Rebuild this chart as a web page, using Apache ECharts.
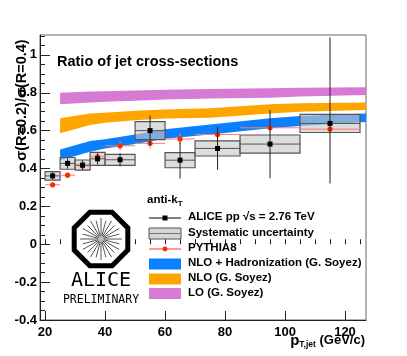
<!DOCTYPE html>
<html>
<head>
<meta charset="utf-8">
<script src="https://cdn.jsdelivr.net/npm/echarts@6/dist/echarts.min.js"></script>
<style>
html, body { margin: 0; padding: 0; background: #fff; }
#chart { width: 407px; height: 356px; }
</style>
</head>
<body>
<div id="chart"></div>
<script>
// pt bins of the measurement (GeV/c)
var ptLow = [20, 25, 30, 35, 40, 50, 60, 70, 85, 105];
var ptHigh = [25, 30, 35, 40, 50, 60, 70, 85, 105, 125];
var ptCenter = [22.5, 27.5, 32.5, 37.5, 45, 55, 65, 77.5, 95, 115];

// ALICE ratio, stat errors (down / up) and systematic
var aliceRatio = [0.361, 0.427, 0.418, 0.451, 0.446, 0.600, 0.444, 0.506, 0.529, 0.638];
var statDown = [0.020, 0.027, 0.025, 0.030, 0.035, 0.080, 0.097, 0.113, 0.180, 0.317];
var statUp = [0.020, 0.027, 0.025, 0.030, 0.035, 0.080, 0.097, 0.113, 0.180, 0.455];
var sysErr = [0.022, 0.031, 0.027, 0.034, 0.029, 0.048, 0.040, 0.040, 0.048, 0.048];

// PYTHIA8
var pythia = [0.314, 0.365, 0.414, 0.462, 0.520, 0.533, 0.556, 0.580, 0.615, 0.608];
var pythiaErr = [0.012, 0.012, 0.010, 0.012, 0.025, 0.030, 0.030, 0.025, 0.012, 0.025];

// theory bands (G. Soyez)
var bandPt = [25, 35, 40, 50, 60, 75, 95, 105, 127];
var nloHadLow = [0.444, 0.488, 0.505, 0.530, 0.557, 0.580, 0.612, 0.625, 0.645];
var nloHadHigh = [0.501, 0.545, 0.555, 0.580, 0.607, 0.633, 0.665, 0.677, 0.690];
var nloLow = [0.586, 0.630, 0.642, 0.655, 0.664, 0.668, 0.691, 0.700, 0.709];
var nloHigh = [0.665, 0.691, 0.695, 0.705, 0.712, 0.718, 0.739, 0.745, 0.748];
var loLow = [0.739, 0.748, 0.752, 0.758, 0.764, 0.770, 0.774, 0.780, 0.788];
var loHigh = [0.800, 0.806, 0.808, 0.812, 0.816, 0.820, 0.824, 0.826, 0.829];

// axis ticks
var xMajor = [20, 40, 60, 80, 100, 120];
var xMinor = [20, 25, 30, 35, 40, 45, 50, 55, 60, 65, 70, 75, 80, 85, 90, 95, 100, 105, 110, 115, 120, 125];
var yMajor = [-0.4, -0.2, 0, 0.2, 0.4, 0.6, 0.8, 1];
var yMinor = [];
for (var t = -0.4; t <= 1.1001; t += 0.05) yMinor.push(Math.round(t * 100) / 100);

var FONT = 'Liberation Sans, Arial, Helvetica, sans-serif';
var C_BLUE = '#0a80ff', C_ORANGE = '#ffa500', C_PURPLE = '#d67ad4';
var C_RED = '#ff2a00', C_REDLINE = '#ff7a6a';

var chart = echarts.init(document.getElementById('chart'));

function bandSeries(name, lo, hi, color) {
  var data = bandPt.map(function (x, i) { return [x, lo[i], hi[i]]; });
  return {
    name: name,
    type: 'custom',
    clip: true,
    z: 1,
    encode: { x: 0, y: [1, 2] },
    data: data,
    renderItem: function (params, api) {
      if (params.dataIndex !== 0) return;
      var pts = [];
      for (var i = 0; i < bandPt.length; i++) pts.push(api.coord([bandPt[i], hi[i]]));
      for (var j = bandPt.length - 1; j >= 0; j--) pts.push(api.coord([bandPt[j], lo[j]]));
      return { type: 'polygon', shape: { points: pts }, style: { fill: color } };
    }
  };
}

var sysData = ptCenter.map(function (x, i) {
  return [ptLow[i], ptHigh[i], aliceRatio[i] - sysErr[i], aliceRatio[i] + sysErr[i]];
});
var aliceData = ptCenter.map(function (x, i) {
  return [x, aliceRatio[i], ptLow[i], ptHigh[i], aliceRatio[i] - statDown[i], aliceRatio[i] + statUp[i]];
});
var pythiaData = ptCenter.map(function (x, i) {
  return [x, pythia[i], ptLow[i], ptHigh[i], pythia[i] - pythiaErr[i], pythia[i] + pythiaErr[i]];
});

function pointItem(lineColor, markColor, square) {
  return function (params, api) {
    var c = api.coord([api.value(0), api.value(1)]);
    var l = api.coord([api.value(2), api.value(1)]);
    var r = api.coord([api.value(3), api.value(1)]);
    var lo = api.coord([api.value(0), api.value(4)]);
    var hi = api.coord([api.value(0), api.value(5)]);
    var mark = square
      ? { type: 'rect', shape: { x: c[0] - 2.5, y: c[1] - 2.5, width: 5, height: 5 }, style: { fill: markColor } }
      : { type: 'circle', shape: { cx: c[0], cy: c[1], r: 2.6 }, style: { fill: markColor } };
    return {
      type: 'group',
      children: [
        { type: 'line', shape: { x1: l[0], y1: l[1], x2: r[0], y2: r[1] }, style: { stroke: lineColor, lineWidth: 1 } },
        { type: 'line', shape: { x1: lo[0], y1: lo[1], x2: hi[0], y2: hi[1] }, style: { stroke: square ? '#222' : lineColor, lineWidth: 1 } },
        mark
      ]
    };
  };
}

// legend rows
var legX = 149, legW = 32, legTextX = 188;
var rows = [218, 233.5, 249, 264, 279, 293.5];
function legText(y, s) {
  return { type: 'text', left: legTextX, top: y - 7, style: { text: s, font: 'bold 11.5px ' + FONT, fill: '#000' } };
}
function legBox(y, fill, stroke) {
  return { type: 'rect', shape: { x: legX, y: y - 5.5, width: legW, height: 11 }, style: { fill: fill, stroke: stroke || null, lineWidth: 1 } };
}

var graphics = [
  { type: 'text', left: 147, top: 194, style: { text: '{a|anti-k}{s|T}', rich: { a: { font: 'bold 11.5px ' + FONT }, s: { font: 'bold 8px ' + FONT, padding: [8, 0, 0, 0] } } } },
  { type: 'line', shape: { x1: legX, y1: rows[0], x2: legX + legW, y2: rows[0] }, style: { stroke: '#000', lineWidth: 1 } },
  { type: 'rect', shape: { x: legX + legW / 2 - 2.5, y: rows[0] - 2.5, width: 5, height: 5 }, style: { fill: '#000' } },
  legText(rows[0], 'ALICE pp \u221As = 2.76 TeV'),
  legBox(rows[1], 'rgba(200,200,200,0.75)', '#555'),
  { type: 'line', shape: { x1: legX, y1: rows[1], x2: legX + legW, y2: rows[1] }, style: { stroke: '#777', lineWidth: 1 } },
  legText(rows[1], 'Systematic uncertainty'),
  { type: 'line', shape: { x1: legX, y1: rows[2], x2: legX + legW, y2: rows[2] }, style: { stroke: C_REDLINE, lineWidth: 1.5 } },
  { type: 'circle', shape: { cx: legX + legW / 2, cy: rows[2], r: 2.4 }, style: { fill: C_RED } },
  legText(rows[2], 'PYTHIA8'),
  legBox(rows[3], C_BLUE),
  legText(rows[3], 'NLO + Hadronization (G. Soyez)'),
  legBox(rows[4], C_ORANGE),
  legText(rows[4], 'NLO (G. Soyez)'),
  legBox(rows[5], C_PURPLE),
  legText(rows[5], 'LO (G. Soyez)'),
  // titles
  { type: 'text', left: 57, top: 54, style: { text: 'Ratio of jet cross-sections', font: 'bold 14.5px ' + FONT, fill: '#000' } },
  { type: 'text', x: 22, y: 100, rotation: Math.PI / 2,
    style: { text: '\u03C3(R=0.2)/\u03C3(R=0.4)', font: 'bold 14.5px ' + FONT, fill: '#000', align: 'center', verticalAlign: 'middle' } },
  { type: 'text', right: 42, top: 333,
    style: { text: '{p|p}{s|T,jet}{u| (GeV/c)}', rich: {
      p: { font: 'bold 15px ' + FONT },
      s: { font: 'bold 8.5px ' + FONT, padding: [9, 0, 0, 0] },
      u: { font: 'bold 13px ' + FONT }
    } } }
];

// ALICE logo
var lcx = 101, lcy = 239, lr = 29;
var oct = [];
for (var k = 0; k < 8; k++) {
  var a = Math.PI / 8 + k * Math.PI / 4;
  oct.push([lcx + lr * Math.cos(a), lcy + lr * Math.sin(a)]);
}
graphics.push({ type: 'polygon', shape: { points: oct }, style: { fill: '#fff', stroke: '#000', lineWidth: 5 }, z: 10 });
for (var s = 0; s < 24; s++) {
  var ang = s * Math.PI / 12;
  var len = s % 2 ? 19 : 21;
  graphics.push({ type: 'line', z: 11, shape: { x1: lcx + 2 * Math.cos(ang), y1: lcy + 2 * Math.sin(ang), x2: lcx + len * Math.cos(ang), y2: lcy + len * Math.sin(ang) }, style: { stroke: '#555', lineWidth: 1 } });
}
graphics.push({ type: 'circle', z: 11, shape: { cx: lcx, cy: lcy, r: 3 }, style: { fill: '#bbb' } });
graphics.push({ type: 'text', z: 11, x: lcx, y: 281, style: { text: 'ALICE', font: '20px DejaVu Sans Mono', fill: '#000', align: 'center', verticalAlign: 'middle' } });
graphics.push({ type: 'text', z: 11, x: lcx, y: 300, style: { text: 'PRELIMINARY', font: '11.5px DejaVu Sans Mono', fill: '#000', align: 'center', verticalAlign: 'middle' } });

var option = {
  animation: false,
  grid: { left: 40, top: 35, right: 41, bottom: 36, show: true, borderColor: '#666', borderWidth: 1 },
  xAxis: [
    {
      type: 'value', min: 18.3, max: 127,
      axisLine: { show: true, onZero: false, lineStyle: { color: '#222' } },
      splitLine: { show: false },
      axisTick: { inside: true, length: 9, customValues: xMajor, lineStyle: { color: '#222' } },
      axisLabel: { customValues: xMajor, margin: 6, color: '#000', fontFamily: FONT, fontWeight: 'bold', fontSize: 13 }
    },
    {
      type: 'value', min: 18.3, max: 127, position: 'bottom',
      axisLine: { show: false }, splitLine: { show: false }, axisLabel: { show: false },
      axisTick: { inside: true, length: 5, customValues: xMinor, lineStyle: { color: '#222' } }
    }
  ],
  yAxis: [
    {
      type: 'value', min: -0.4, max: 1.105,
      axisLine: { show: true, onZero: false, lineStyle: { color: '#222' } },
      splitLine: { show: false },
      axisTick: { inside: true, length: 10, customValues: yMajor, lineStyle: { color: '#222' } },
      axisLabel: { customValues: yMajor, margin: 3, color: '#000', fontFamily: FONT, fontWeight: 'bold', fontSize: 13 }
    },
    {
      type: 'value', min: -0.4, max: 1.105, position: 'left',
      axisLine: { show: false }, splitLine: { show: false }, axisLabel: { show: false },
      axisTick: { inside: true, length: 5, customValues: yMinor, lineStyle: { color: '#222' } }
    }
  ],
  series: [
    bandSeries('LO (G. Soyez)', loLow, loHigh, C_PURPLE),
    bandSeries('NLO (G. Soyez)', nloLow, nloHigh, C_ORANGE),
    bandSeries('NLO + Hadronization (G. Soyez)', nloHadLow, nloHadHigh, C_BLUE),
    {
      name: 'Systematic uncertainty', type: 'custom', z: 2, clip: true,
      encode: { x: [0, 1], y: [2, 3] },
      data: sysData,
      renderItem: function (params, api) {
        var p0 = api.coord([api.value(0), api.value(3)]);
        var p1 = api.coord([api.value(1), api.value(2)]);
        return { type: 'rect', shape: { x: p0[0], y: p0[1], width: p1[0] - p0[0], height: p1[1] - p0[1] },
          style: { fill: 'rgba(200,200,200,0.62)', stroke: '#555', lineWidth: 1.2 } };
      }
    },
    {
      name: 'PYTHIA8', type: 'custom', z: 3, clip: true,
      encode: { x: 0, y: 1 },
      data: pythiaData,
      renderItem: pointItem(C_REDLINE, C_RED, false)
    },
    {
      name: 'ALICE', type: 'custom', z: 4, clip: true,
      encode: { x: 0, y: 1 },
      data: aliceData,
      renderItem: pointItem('#555', '#000', true)
    }
  ],
  graphic: graphics
};

chart.setOption(option);
</script>
</body>
</html>
